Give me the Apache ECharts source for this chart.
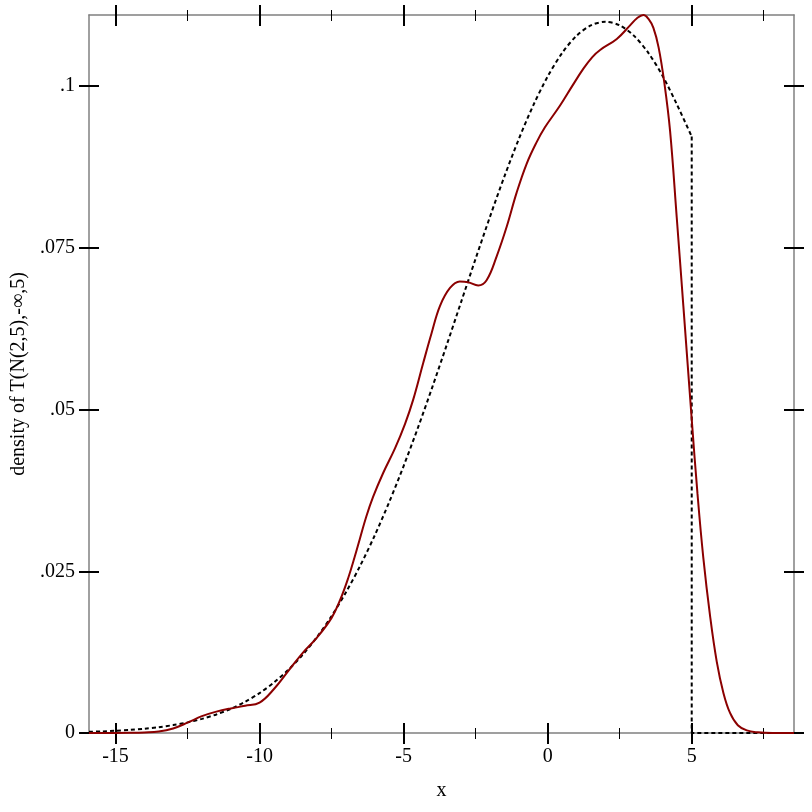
<!DOCTYPE html>
<html>
<head>
<meta charset="utf-8">
<script src="https://cdn.jsdelivr.net/npm/echarts@6/dist/echarts.min.js"></script>
<style>html,body{margin:0;padding:0;background:#fff}#c{width:812px;height:812px}</style>
</head>
<body>
<div id="c"></div>
<script>
// ---- data ----
const xRange = [-15.92, 8.55];
const yRange = [0, 0.111];
const xMajorTicks = [-15, -10, -5, 0, 5];
const xMinorTicks = [-12.5, -7.5, -2.5, 2.5, 7.5];
const yTicks = [0, 0.025, 0.05, 0.075, 0.1];
const yTickLabels = ['0', '.025', '.05', '.075', '.1'];
const xName = 'x';
const yName = 'density of T(N(2,5),-\u221E,5)';

// sample density (kernel estimate), red
const sampleX = [-15.92,-15,-14.5,-14,-13.5,-13,-12.5,-12,-11.5,-11,-10.5,-10,-9.5,-9,-8.5,-8,-7.5,-7.2,-6.92,-6.7,-6.52,-6.3,-6.06,-5.71,-5.3,-4.95,-4.67,-4.32,-4.03,-3.74,-3.39,-3.05,-2.76,-2.41,-2.12,-1.77,-1.42,-1.08,-0.73,-0.4,-0.1,0.43,0.85,1.24,1.55,1.82,2.4,2.86,3.1,3.32,3.5,3.67,3.85,4.05,4.25,4.48,4.71,5.0,5.2,5.4,5.64,5.87,6.1,6.33,6.6,6.91,7.3,7.8,8.55];
const sampleY = [0,0,0.00002,0.00008,0.00022,0.0007,0.0016,0.0026,0.0033,0.0038,0.0042,0.0047,0.0068,0.0096,0.0124,0.0148,0.0178,0.0206,0.0240,0.0272,0.0300,0.0334,0.0365,0.0402,0.0440,0.0478,0.0515,0.0572,0.0618,0.0660,0.0688,0.0698,0.0697,0.0692,0.0700,0.0737,0.0783,0.0835,0.0880,0.0912,0.0936,0.0970,0.1000,0.1027,0.1045,0.1056,0.1073,0.1094,0.1105,0.1110,0.1104,0.1090,0.1060,0.1005,0.0930,0.0797,0.0660,0.0485,0.0370,0.0272,0.0180,0.0110,0.0062,0.0031,0.0012,0.0004,0.0001,0,0];

// theoretical density (dashed)
const theoryX = [-15.92,-15.5,-15,-14.5,-14,-13.5,-13,-12.5,-12,-11.5,-11,-10.5,-10,-9.5,-9,-8.5,-8,-7.5,-7,-6.5,-6,-5.5,-5,-4.5,-4,-3.5,-3,-2.5,-2,-1.5,-1,-0.5,0,0.5,1,1.5,2,2.5,3,3.5,4,4.5,5];
const theoryY = [0.00018,0.00024,0.00034,0.000475,0.00066,0.0009,0.00122,0.00164,0.00218,0.00287,0.00374,0.00483,0.00617,0.00781,0.00978,0.01212,0.01488,0.01808,0.02176,0.02592,0.03057,0.03570,0.04127,0.04723,0.05352,0.06004,0.06669,0.07333,0.07984,0.08606,0.09184,0.09703,0.10150,0.10511,0.10777,0.10940,0.10995,0.10940,0.10777,0.10511,0.10150,0.09703,0.0922];
const theoryTailX = [5, 5, 8.55];
const theoryTailY = [0.0922, 0, 0];

// ---- chart ----
const FONT = 'Liberation Serif';
const zip = (a, b) => a.map((v, i) => [v, b[i]]);
const frame = { show: true, onZero: false, lineStyle: { color: '#808080', width: 1.5 } };
const noLine = { show: false, onZero: false };

function xAx(pos, vals, inside, len, width, withLabel, line) {
  return {
    type: 'value', min: xRange[0], max: xRange[1], position: pos,
    axisLine: line ? frame : noLine,
    splitLine: { show: false },
    axisTick: { show: true, customValues: vals, inside: inside, length: len,
      lineStyle: { color: '#000', width: width } },
    axisLabel: withLabel ? { show: true, customValues: xMajorTicks, margin: 14,
      fontFamily: FONT, fontSize: 20, color: '#000' } : { show: false },
    name: withLabel ? xName : '', nameLocation: 'middle', nameGap: 48,
    nameTextStyle: { fontFamily: FONT, fontSize: 20, color: '#000' }
  };
}
function yAx(pos, inside, withLabel, line) {
  return {
    type: 'value', min: yRange[0], max: yRange[1], position: pos,
    axisLine: line ? frame : noLine,
    splitLine: { show: false },
    axisTick: { show: true, customValues: yTicks, inside: inside, length: 10,
      lineStyle: { color: '#000', width: 2 } },
    axisLabel: withLabel ? { show: true, customValues: yTicks, margin: 14,
      fontFamily: FONT, fontSize: 20, color: '#000',
      formatter: v => yTickLabels[yTicks.findIndex(t => Math.abs(t - v) < 1e-9)] } : { show: false },
    name: withLabel ? yName : '', nameLocation: 'middle', nameGap: 54, nameRotate: 90,
    nameTextStyle: { fontFamily: FONT, fontSize: 20, color: '#000' }
  };
}

const chart = echarts.init(document.getElementById('c'), null, { renderer: 'canvas' });
chart.setOption({
  animation: false,
  backgroundColor: '#fff',
  grid: { left: 89, right: 18, top: 15, bottom: 79, containLabel: false },
  xAxis: [
    xAx('bottom', xMajorTicks, false, 11, 2, true, true),
    xAx('bottom', xMajorTicks, true, 10, 2, false, false),
    xAx('bottom', xMinorTicks, false, 6, 1, false, false),
    xAx('bottom', xMinorTicks, true, 5, 1, false, false),
    xAx('top', xMajorTicks, false, 10, 2, false, true),
    xAx('top', xMajorTicks, true, 11, 2, false, false),
    xAx('top', xMinorTicks, false, 5, 1, false, false),
    xAx('top', xMinorTicks, true, 6, 1, false, false)
  ],
  yAxis: [
    yAx('left', false, true, true),
    yAx('left', true, false, false),
    yAx('right', false, false, true),
    yAx('right', true, false, false)
  ],
  series: [
    { type: 'line', xAxisIndex: 0, yAxisIndex: 0, data: zip(theoryX, theoryY),
      showSymbol: false, smooth: 0.3, z: 2,
      lineStyle: { color: '#000', width: 2, type: [4, 3] } },
    { type: 'line', xAxisIndex: 0, yAxisIndex: 0, data: zip(theoryTailX, theoryTailY),
      showSymbol: false, smooth: false, z: 2,
      lineStyle: { color: '#000', width: 2, type: [4, 3] } },
    { type: 'line', xAxisIndex: 0, yAxisIndex: 0, data: zip(sampleX, sampleY),
      showSymbol: false, smooth: 0.4, z: 3,
      lineStyle: { color: '#8B0000', width: 2 } }
  ]
});
</script>
</body>
</html>
